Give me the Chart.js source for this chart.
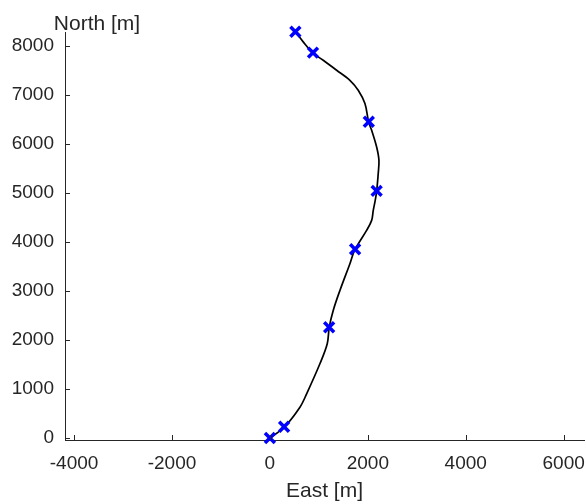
<!DOCTYPE html>
<html>
<head>
<meta charset="utf-8">
<script src="https://cdn.jsdelivr.net/npm/chart.js@4/dist/chart.umd.min.js"></script>
<style>
  html, body { margin: 0; padding: 0; background: #fff; }
  #wrap { width: 586px; height: 504px; }
</style>
</head>
<body>
<div id="wrap"><canvas id="myChart"></canvas></div>
<script>
// flown track (East, North) in metres
const trackEast  = [0, 292, 613, 750, 1021, 1171, 1211, 1293, 1430, 1634, 1736, 1975, 2078, 2111, 2151, 2180, 2212, 2227, 2180, 2078, 2016, 1941, 1804, 1634, 1363, 1089, 878, 680, 525];
const trackNorth = [0, 220, 629, 902, 1514, 1922, 2255, 2602, 3010, 3555, 3841, 4235, 4439, 4643, 4847, 5031, 5392, 5663, 5935, 6276, 6445, 6820, 7092, 7296, 7500, 7704, 7853, 8078, 8282];

// waypoints
const wpEast  = [0, 290, 1210, 1740, 2180, 2020, 880, 520];
const wpNorth = [0, 230, 2260, 3850, 5040, 6450, 7860, 8285];

const eastTicks  = [-4000, -2000, 0, 2000, 4000, 6000];
const northTicks = [0, 1000, 2000, 3000, 4000, 5000, 6000, 7000, 8000];

const axisColor = '#262626';
const fontFamily = '"Liberation Sans", Arial, Helvetica, sans-serif';
const tickFont = 19;
const labelFont = 21;

function toPoints(xs, ys) {
  return xs.map((x, i) => ({ x: x, y: ys[i] }));
}

// no extra room for half-labels at the axis ends
function fixPadding(s) {
  s.paddingLeft = 0;
  s.paddingRight = 0;
  s.paddingTop = 0;
  s.paddingBottom = 0;
}

// matlab-like inward ticks plus the "North [m]" label above the y axis
const axisExtras = {
  id: 'axisExtras',
  afterDraw(chart) {
    const ctx = chart.ctx;
    const area = chart.chartArea;
    const xs = chart.scales.x;
    const ys = chart.scales.y;
    ctx.save();
    ctx.strokeStyle = axisColor;
    ctx.lineWidth = 1;
    ctx.beginPath();
    xs.ticks.forEach(t => {
      const px = Math.round(xs.getPixelForValue(t.value)) + 0.5;
      ctx.moveTo(px, area.bottom);
      ctx.lineTo(px, area.bottom - 5);
    });
    ys.ticks.forEach(t => {
      const py = Math.round(ys.getPixelForValue(t.value)) + 0.5;
      ctx.moveTo(area.left, py);
      ctx.lineTo(area.left + 5, py);
    });
    ctx.stroke();
    ctx.fillStyle = axisColor;
    ctx.font = labelFont + 'px ' + fontFamily;
    ctx.textAlign = 'center';
    ctx.textBaseline = 'alphabetic';
    ctx.fillText('North [m]', area.left + 32, 30);
    ctx.restore();
  }
};

function initChart(target) {
  const data = {
    datasets: [
      {
        label: 'track',
        data: toPoints(trackEast, trackNorth),
        showLine: true,
        borderColor: '#000000',
        borderWidth: 1.7,
        pointRadius: 0,
        tension: 0.35,
        clip: false,
        order: 2
      },
      {
        label: 'waypoints',
        data: toPoints(wpEast, wpNorth),
        showLine: false,
        pointStyle: 'crossRot',
        pointRadius: 7,
        pointBorderWidth: 3.5,
        borderColor: '#0000ff',
        backgroundColor: '#0000ff',
        clip: false,
        order: 1
      }
    ]
  };

  const config = {
    type: 'scatter',
    data: data,
    options: {
      responsive: false,
      animation: false,
      layout: { autoPadding: false, padding: { top: 32, right: 2, left: 0, bottom: 0 } },
      plugins: {
        legend: { display: false },
        tooltip: { enabled: false }
      },
      scales: {
        x: {
          type: 'linear',
          min: -4185,
          max: 6415,
          afterBuildTicks: s => { s.ticks = eastTicks.map(v => ({ value: v })); },
          afterFit: s => { s.height = 64; fixPadding(s); },
          grid: { drawOnChartArea: false, drawTicks: false },
          border: { display: true, color: axisColor, width: 1 },
          ticks: {
            color: axisColor,
            font: { size: tickFont, family: fontFamily },
            padding: 12,
            maxRotation: 0,
            callback: v => String(v)
          },
          title: {
            display: true,
            text: 'East [m]',
            color: axisColor,
            font: { size: labelFont, family: fontFamily },
            padding: { top: 0, bottom: 0 }
          }
        },
        y: {
          type: 'linear',
          min: -40,
          max: 8280,
          afterBuildTicks: s => { s.ticks = northTicks.map(v => ({ value: v })); },
          afterFit: s => { s.width = 65; fixPadding(s); },
          grid: { drawOnChartArea: false, drawTicks: false },
          border: { display: true, color: axisColor, width: 1 },
          ticks: {
            color: axisColor,
            font: { size: tickFont, family: fontFamily },
            padding: 11,
            callback: v => String(v)
          }
        }
      }
    },
    plugins: [axisExtras]
  };

  return new Chart(target, config);
}

const canvas = document.querySelector('#myChart');
canvas.width = 586;
canvas.height = 504;
initChart(canvas);
</script>
</body>
</html>
